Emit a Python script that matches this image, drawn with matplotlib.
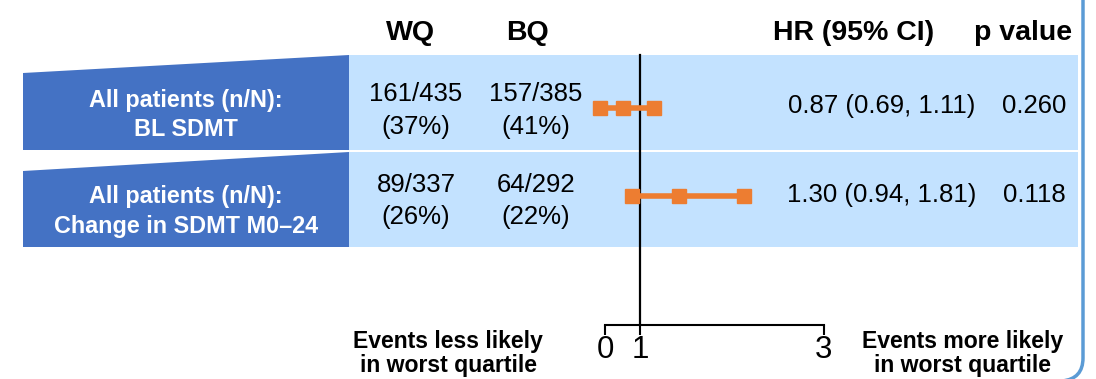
import matplotlib
matplotlib.use('Agg')
import matplotlib.pyplot as plt
from matplotlib.patches import Polygon, Rectangle, PathPatch
from matplotlib.path import Path

plt.rcParams['font.family'] = ['Liberation Sans', 'DejaVu Sans']

# Subgroups and counts (events / patients) in worst (WQ) and best (BQ) quartile
labels = ['All patients (n/N):\nBL SDMT', 'All patients (n/N):\nChange in SDMT M0\u201324']
wq_events = [161, 89]
wq_total = [435, 337]
bq_events = [157, 64]
bq_total = [385, 292]

# Hazard ratios with 95% CI
hr = [0.87, 1.30]
ci_low = [0.69, 0.94]
ci_high = [1.11, 1.81]
p_values = ['0.260', '0.118']

# Scale bracket under the plot
tick_pos = [0.73, 1.0, 2.43]
tick_labels = ['0', '1', '3']

DARK = '#4472C4'
LIGHT = '#C3E2FF'
ORANGE = '#ED7D31'
FRAME = '#5B9BD5'

W, H = 1096, 379
fig = plt.figure(figsize=(W / 100, H / 100), dpi=100)

# background axes in pixel units for the table
bg = fig.add_axes([0, 0, 1, 1])
bg.set_xlim(0, W)
bg.set_ylim(H, 0)
bg.axis('off')

row_y = [108, 196]      # marker centre of each row
row_top = [55, 152]
row_bot = [150, 247]
slant = [73, 171]       # left top corner of the dark label panel
label_base = [(107, 136), (203, 233)]
count_base = [(101, 134), (192, 224)]
hr_base = [113, 202]

NUM = 18.5
for i in range(len(labels)):
    bg.add_patch(Rectangle((349, row_top[i]), 1078 - 349, row_bot[i] - row_top[i],
                           color=LIGHT, lw=0, zorder=0))
    bg.add_patch(Polygon([(23, slant[i]), (349, row_top[i]), (349, row_bot[i]), (23, row_bot[i])],
                         closed=True, color=DARK, lw=0, zorder=1))
    l1, l2 = labels[i].split('\n')
    bg.text(186, label_base[i][0], l1, color='white', fontsize=16.8, fontweight='bold',
            ha='center', va='baseline')
    bg.text(186, label_base[i][1], l2, color='white', fontsize=16.8, fontweight='bold',
            ha='center', va='baseline')

    wq_pct = round(100 * wq_events[i] / wq_total[i])
    bq_pct = round(100 * bq_events[i] / bq_total[i])
    b1, b2 = count_base[i]
    bg.text(416, b1, f'{wq_events[i]}/{wq_total[i]}', fontsize=NUM, ha='center', va='baseline')
    bg.text(416, b2, f'({wq_pct}%)', fontsize=NUM, ha='center', va='baseline')
    bg.text(536, b1, f'{bq_events[i]}/{bq_total[i]}', fontsize=NUM, ha='center', va='baseline')
    bg.text(536, b2, f'({bq_pct}%)', fontsize=NUM, ha='center', va='baseline')

    bg.text(882, hr_base[i], f'{hr[i]:.2f} ({ci_low[i]:.2f}, {ci_high[i]:.2f})',
            fontsize=NUM, ha='center', va='baseline')
    bg.text(1034, hr_base[i], p_values[i], fontsize=NUM, ha='center', va='baseline')

# column headers
for x, s in [(411, 'WQ'), (528, 'BQ'), (854, 'HR (95% CI)'), (1023, 'p value')]:
    bg.text(x, 40, s, fontsize=20.5, fontweight='bold', ha='center', va='baseline')

# bottom captions
for x, s in [(448, 'Events less likely'), (963, 'Events more likely')]:
    bg.text(x, 348, s, fontsize=16.6, fontweight='bold', ha='center', va='baseline')
    bg.text(x, 372, 'in worst quartile', fontsize=16.6, fontweight='bold', ha='center', va='baseline')

# rounded frame edge on the right
frame = Path([(1083, -5), (1083, 358), (1083, 379), (1062, 381)],
             [Path.MOVETO, Path.LINETO, Path.CURVE3, Path.CURVE3])
bg.add_patch(PathPatch(frame, fill=False, edgecolor=FRAME, lw=2.5, zorder=5))

# forest plot axes: x in HR units, y in pixels
px_per_unit = 128.5
x_one = 640
left_px, right_px = 560, 860
ax = fig.add_axes([left_px / W, 0, (right_px - left_px) / W, 1])
ax.set_xlim((left_px - x_one) / px_per_unit + 1, (right_px - x_one) / px_per_unit + 1)
ax.set_ylim(H, 0)
ax.patch.set_alpha(0)

for i in range(len(hr)):
    ax.plot([ci_low[i], ci_high[i]], [row_y[i], row_y[i]], color=ORANGE, lw=4,
            solid_capstyle='butt', zorder=3)
    ax.plot([ci_low[i], hr[i], ci_high[i]], [row_y[i]] * 3, ls='none', marker='s',
            ms=10, color=ORANGE, zorder=4)

ax.plot([1, 1], [55, 325], color='black', lw=1.6, zorder=2)

for s in ['top', 'left', 'right']:
    ax.spines[s].set_visible(False)
ax.spines['bottom'].set_position(('data', 325))
ax.spines['bottom'].set_bounds(tick_pos[0], tick_pos[-1])
ax.spines['bottom'].set_linewidth(1.5)
ax.set_xticks(tick_pos)
ax.set_xticklabels(tick_labels)
ax.tick_params(axis='x', direction='out', length=7.5, width=1.5, labelsize=22.5, pad=0)
ax.set_yticks([])

fig.savefig('out.png', dpi=100)
